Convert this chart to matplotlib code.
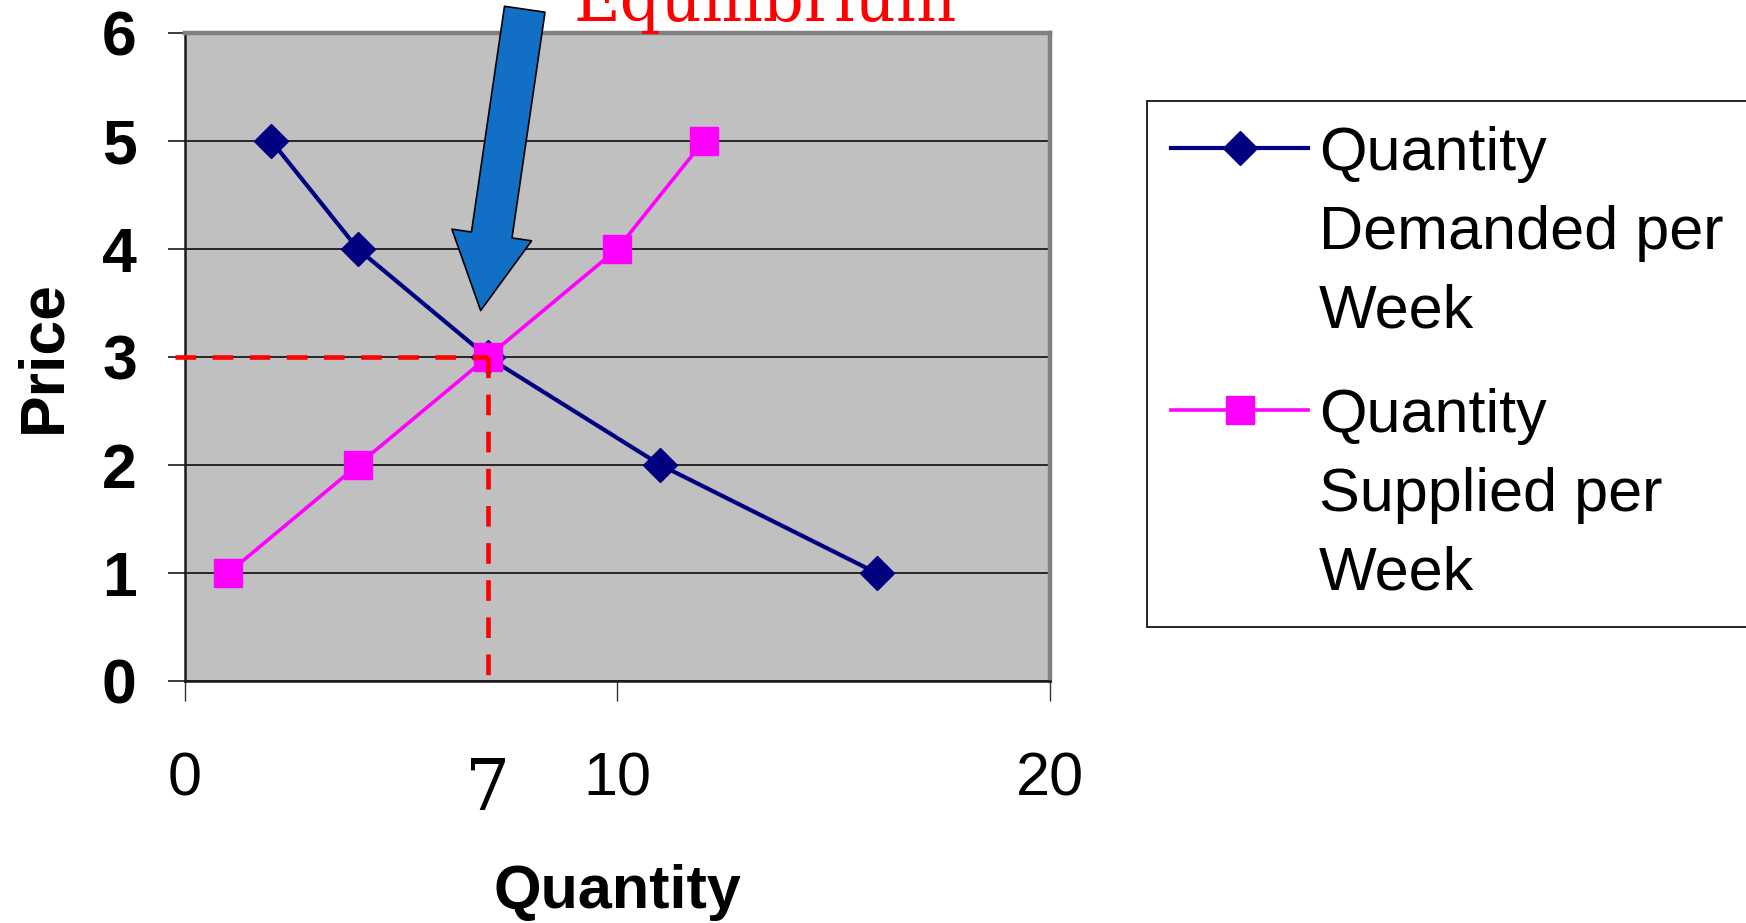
#!/usr/bin/env python3
# -*- coding: utf-8 -*-
"""
Supply and demand schedule with the market equilibrium marked.
Writes out.png
"""
import numpy as np
import matplotlib
matplotlib.use("Agg")
import matplotlib.pyplot as plt
from matplotlib.patches import FancyArrowPatch
from matplotlib.legend_handler import HandlerLine2D
from matplotlib.transforms import blended_transform_factory

# ------- schedules: quantity per week at each price -------
PRICE = [1, 2, 3, 4, 5]
QTY_DEMANDED = [16, 11, 7, 4, 2]
QTY_SUPPLIED = [1, 4, 7, 10, 12]

EQ_QTY = 7
EQ_PRICE = 3

X_TICKS = [0, 10, 20]
Y_TICKS = [0, 1, 2, 3, 4, 5, 6]

LABEL_DEMAND = "Quantity\nDemanded per\nWeek"
LABEL_SUPPLY = "Quantity\nSupplied per\nWeek"

SANS = ["Liberation Sans", "DejaVu Sans"]
SERIF = ["DejaVu Serif"]
LEG_LS = 1.5     # line spacing of the legend labels

plt.rcParams["font.family"] = SANS


class FirstLineHandler(HandlerLine2D):
    """line+marker handle put level with the FIRST line of a 3-line label.

    legend centres a multi-line label on its handle (baseline of the middle
    line minus half a descent) -> move the handle up by one line + d/2
    """

    def create_artists(self, legend, orig_handle, xdescent, ydescent,
                       width, height, fontsize, trans):
        arts = super().create_artists(legend, orig_handle, xdescent, ydescent,
                                      width, height, fontsize, trans)
        r = legend.figure.canvas.get_renderer()
        _, h, d = r.get_text_width_height_descent("lp", legend.prop, ismath=False)
        dy = (1.5 * d + (h - d) * LEG_LS) / r.points_to_pixels(1.0)
        for a in arts:
            a.set_ydata(np.asarray(a.get_ydata(), float) + dy)
        return arts


def main():
    fig = plt.figure(figsize=(17.46, 9.23), dpi=100)
    ax = fig.add_axes([0.10596, 0.26219, 0.49513, 0.70206])
    ax.set_facecolor("#C0C0C0")

    dem, = ax.plot(QTY_DEMANDED, PRICE, color="#000080", lw=3.0,
                   marker="D", ms=17, mec="#000080", zorder=3)
    sup, = ax.plot(QTY_SUPPLIED, PRICE, color="#FF00FF", lw=2.6,
                   marker="s", ms=20, mec="#FF00FF", zorder=4)

    # dashed guides from the equilibrium point to both axes
    ax.plot([-0.23, EQ_QTY], [EQ_PRICE, EQ_PRICE], color="red", lw=3.3,
            dashes=(4.5, 3.6), clip_on=False, zorder=6)
    ax.plot([EQ_QTY, EQ_QTY], [EQ_PRICE, -0.05], color="red", lw=3.3,
            dashes=(4.5, 3.6), clip_on=False, zorder=6)

    ax.set_xlim(0, 20)
    ax.set_ylim(0, 6)
    ax.set_xticks(X_TICKS, labels=[str(v) for v in X_TICKS], fontsize=44)
    ax.set_yticks(Y_TICKS, labels=[str(v) for v in Y_TICKS], fontsize=45,
                  fontweight="bold")
    ax.tick_params(axis="x", direction="out", length=14.4, width=1.0,
                   color="#333333", pad=36.7)
    ax.tick_params(axis="y", direction="out", length=12.2, width=1.2,
                   color="#1a1a1a", pad=22.5)
    ax.yaxis.grid(True, color="#1a1a1a", lw=1.3)
    ax.set_axisbelow(True)

    for s in ("top", "right"):
        ax.spines[s].set(color="#808080", lw=3.2)
    for s in ("left", "bottom"):
        ax.spines[s].set(color="#1a1a1a", lw=1.8)

    ax.set_xlabel("Quantity", fontsize=44, fontweight="bold")
    ax.xaxis.set_label_coords(0.5, -0.283)
    ax.set_ylabel("Price", fontsize=45, fontweight="bold")
    ax.yaxis.set_label_coords(-0.1296, 0.5)

    # equilibrium quantity written under the axis
    tr = blended_transform_factory(ax.transData, ax.transAxes)
    ax.text(EQ_QTY, -0.199, str(EQ_QTY), transform=tr, ha="center",
            va="baseline", fontsize=51, family=SERIF)

    # block arrow pointing at the crossing
    arrow = FancyArrowPatch((7.86, 6.22), (6.84, 3.43),
                            arrowstyle="simple,head_length=55,head_width=58,tail_width=29.5",
                            mutation_scale=1, fc="#1170C6", ec="black", lw=1.2,
                            shrinkA=0, shrinkB=0, clip_on=False, zorder=7)
    ax.add_patch(arrow)

    fig.text(573 / 1746, 1 - 21 / 923, "Equilibrium", color="red",
             fontsize=46, family=SERIF, ha="left", va="baseline")

    leg = ax.legend(handles=[dem, sup], labels=[LABEL_DEMAND, LABEL_SUPPLY],
                    loc="upper left", bbox_to_anchor=(0.6569, 0.8905),
                    bbox_transform=fig.transFigure, prop={"size": 44},
                    handlelength=2.23, handletextpad=0.18, labelspacing=0.775,
                    borderpad=0.4, borderaxespad=0, fancybox=False,
                    edgecolor="black", framealpha=1,
                    handler_map={dem: FirstLineHandler(),
                                 sup: FirstLineHandler()})
    leg.get_frame().set_linewidth(1.2)
    for t in leg.get_texts():
        t.set_linespacing(LEG_LS)

    fig.savefig("out.png", dpi=100)
    plt.close(fig)


if __name__ == "__main__":
    main()
